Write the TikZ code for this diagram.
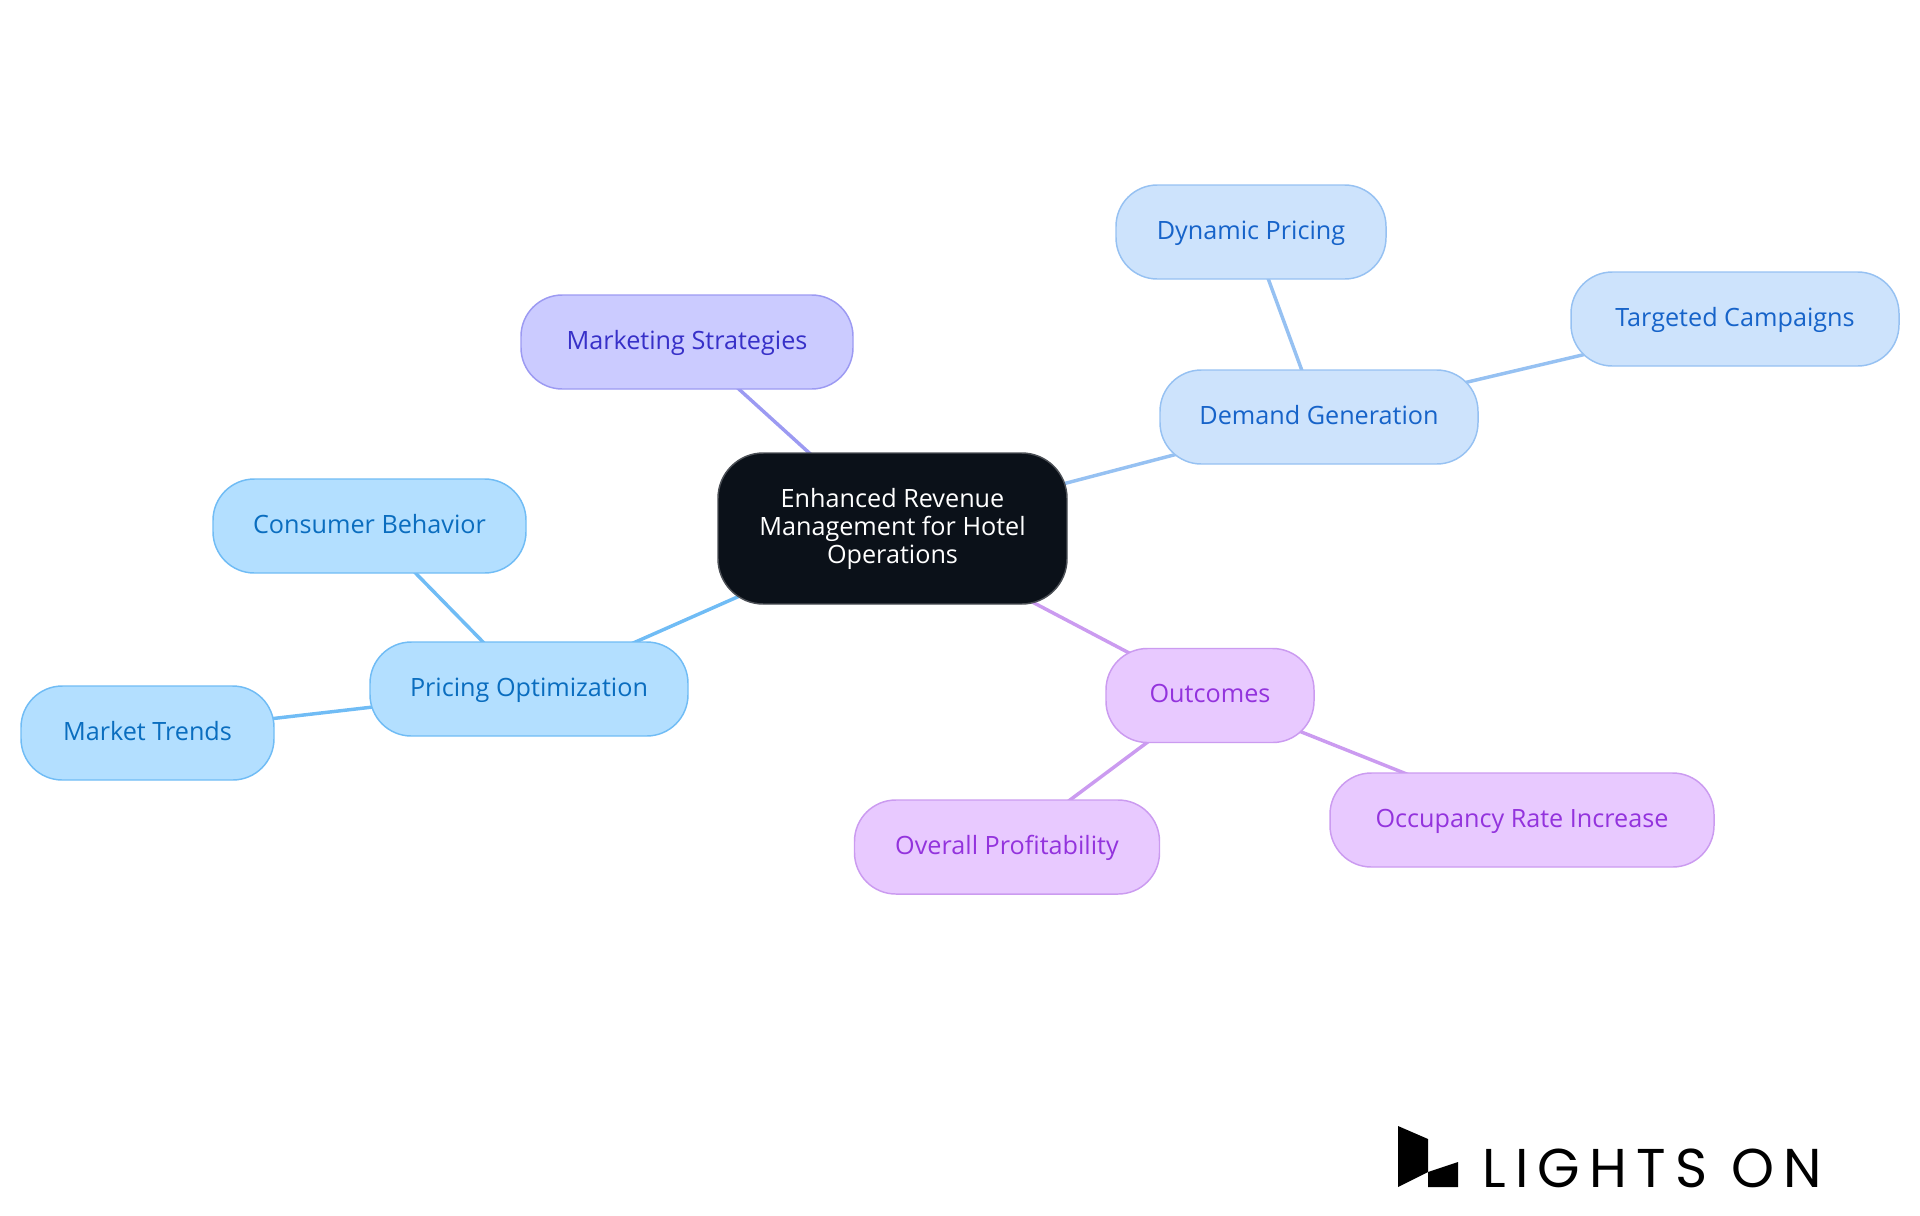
\documentclass[tikz,border=0pt]{standalone}
\usepackage{fontspec}
\setmainfont{Open Sans}
\newfontfamily\logofont[LetterSpace=17]{Poppins}
\usetikzlibrary{backgrounds}
\newcommand\linestrut{\rule[-3.5pt]{0pt}{17.5pt}}
\definecolor{cfill}{HTML}{0B1119}\definecolor{cline}{HTML}{4B4F55}
\definecolor{pfill}{HTML}{B3DFFF}\definecolor{pline}{HTML}{70BCF5}\definecolor{ptext}{HTML}{0A6DBF}
\definecolor{dfill}{HTML}{CDE3FC}\definecolor{dline}{HTML}{96C1F2}\definecolor{dtext}{HTML}{1663C9}
\definecolor{mfill}{HTML}{CBCBFF}\definecolor{mline}{HTML}{9C9AF2}\definecolor{mtext}{HTML}{3730C8}
\definecolor{ofill}{HTML}{E8C9FF}\definecolor{oline}{HTML}{CB9BF0}\definecolor{otext}{HTML}{9333DD}
\tikzset{
  x=0.75pt,y=-0.75pt,
  pill/.style={rectangle,rounded corners=31pt,inner sep=0pt,line width=1.1pt,font=\fontsize{18.9}{21}\selectfont,align=center},
  rootbox/.style={pill,draw=cline,fill=cfill,text=white,rounded corners=34pt,minimum width=261.75pt,minimum height=113.25pt},
  pricebox/.style={pill,draw=pline,fill=pfill,text=ptext,text height=14pt,text depth=3.5pt},
  demandbox/.style={pill,draw=dline,fill=dfill,text=dtext,text height=14pt,text depth=3.5pt},
  marketbox/.style={pill,draw=mline,fill=mfill,text=mtext,text height=14pt,text depth=3.5pt},
  outbox/.style={pill,draw=oline,fill=ofill,text=otext,text height=14pt,text depth=3.5pt},
  sz/.style 2 args={minimum width=#1*0.75pt,minimum height=#2*0.75pt},
  link/.style={line width=2.6pt}
}
\begin{document}
\begin{tikzpicture}
\useasboundingbox (0,0) rectangle (1920,1215);
\node[rootbox] (root) at (892.5,528.5) {\linestrut Enhanced Revenue\\Management for Hotel\\Operations\linestrut};
\node[marketbox,sz={332}{94}] (mkt) at (687,342) {Marketing Strategies};
\node[demandbox,sz={318}{94}] (dem) at (1319,417) {Demand Generation};
\node[demandbox,sz={270}{94}] (dyn) at (1251,232) {Dynamic Pricing};
\node[demandbox,sz={328}{94}] (tar) at (1735,319) {Targeted Campaigns};
\node[pricebox,sz={318}{94}] (pri) at (529,689) {Pricing Optimization};
\node[pricebox,sz={313}{94}] (con) at (369.5,526) {Consumer Behavior};
\node[pricebox,sz={253}{94}] (mar) at (147.5,733) {Market Trends};
\node[outbox,sz={208}{94}] (out) at (1210,695.5) {Outcomes};
\node[outbox,sz={384}{94}] (occ) at (1522,820) {Occupancy Rate Increase};
\node[outbox,sz={305}{94}] (ove) at (1007,847) {Overall Profitability};
\begin{scope}[on background layer]
\draw[link,draw=mline] (root.center) -- (mkt.center);
\draw[link,draw=dline] (root.center) -- (dem.center);
\draw[link,draw=dline] (dem.center) -- (dyn.center);
\draw[link,draw=dline] (dem.center) -- (tar.center);
\draw[link,draw=pline] (root.center) -- (pri.center);
\draw[link,draw=pline] (pri.center) -- (con.center);
\draw[link,draw=pline] (pri.center) -- (mar.center);
\draw[link,draw=oline] (root.center) -- (out.center);
\draw[link,draw=oline] (out.center) -- (occ.center);
\draw[link,draw=oline] (out.center) -- (ove.center);
\end{scope}
\fill[black] (1398,1126) -- (1428,1139) -- (1428,1172) -- (1398,1187) -- cycle;
\fill[black] (1428,1172) -- (1458,1162) -- (1458,1187) -- (1428,1187) -- cycle;
\node[anchor=base west,inner sep=0pt,text=black,font=\logofont\fontsize{41}{41}\selectfont] (logo) at (1482,1187) {LIGHTS ON};
\end{tikzpicture}
\end{document}
